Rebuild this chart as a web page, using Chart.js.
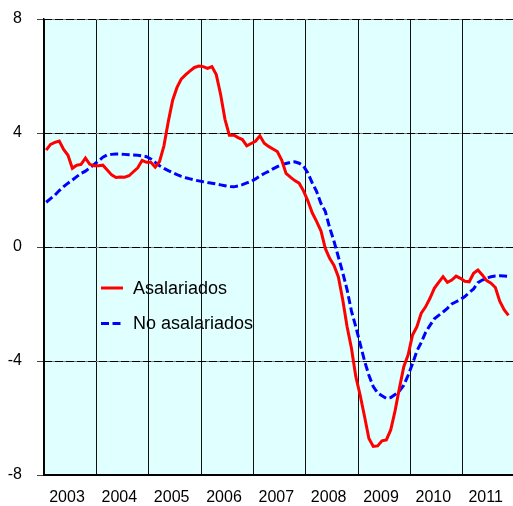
<!DOCTYPE html>
<html>
<head>
<meta charset="utf-8">
<script src="https://cdn.jsdelivr.net/npm/chart.js@4.4.1/dist/chart.umd.min.js"></script>
<style>
html,body{margin:0;padding:0;overflow:hidden;background:#ffffff;}
canvas{display:block;}
</style>
</head>
<body>
<canvas id="c" width="515" height="506"></canvas>
<script>
// ---- data (monthly, Jan 2003 onward) ----
const years = ['2003','2004','2005','2006','2007','2008','2009','2010','2011'];
const yTicks = [8, 4, 0, -4, -8];
const seriesNames = ['Asalariados', 'No asalariados'];

const asalariados = [
  3.4, 3.6, 3.67, 3.72, 3.42, 3.22, 2.76, 2.87, 2.9, 3.12, 2.9, 2.85,
  2.85, 2.87, 2.7, 2.53, 2.44, 2.46, 2.45, 2.5, 2.64, 2.78, 3.04, 2.97,
  2.97, 2.8, 3.0, 3.55, 4.4, 5.15, 5.6, 5.9, 6.05, 6.18, 6.3, 6.35,
  6.33, 6.27, 6.33, 6.05, 5.35, 4.48, 3.92, 3.93, 3.84, 3.77, 3.55, 3.63,
  3.71, 3.9, 3.64, 3.53, 3.44, 3.35, 3.05, 2.58, 2.45, 2.33, 2.24, 1.97,
  1.62, 1.2, 0.9, 0.57, -0.05, -0.4, -0.65, -1.05, -1.85, -2.8, -3.55, -4.55,
  -5.2, -5.95, -6.72, -7.0, -6.98, -6.8, -6.77, -6.42, -5.75, -4.95, -4.2, -3.78,
  -3.09, -2.8, -2.32, -2.1, -1.8, -1.45, -1.24, -1.04, -1.24, -1.16, -1.02, -1.1,
  -1.2, -1.22, -0.92, -0.81, -0.98, -1.18, -1.27, -1.42, -1.9, -2.2, -2.4
];

const noAsalariados = [
  1.57, 1.7, 1.82, 1.98, 2.12, 2.24, 2.35, 2.47, 2.58, 2.66, 2.78, 2.9,
  3.02, 3.15, 3.23, 3.25, 3.26, 3.26, 3.25, 3.24, 3.23, 3.22, 3.2, 3.17,
  3.09, 2.97, 2.85, 2.76, 2.68, 2.61, 2.54, 2.48, 2.43, 2.39, 2.35, 2.32,
  2.29, 2.26, 2.24, 2.21, 2.18, 2.15, 2.12, 2.11, 2.14, 2.19, 2.25, 2.3,
  2.39, 2.49, 2.58, 2.65, 2.74, 2.82, 2.89, 2.93, 2.97, 2.99, 2.94, 2.84,
  2.6, 2.25, 1.95, 1.53, 1.25, 0.68, 0.2, -0.35, -0.9, -1.5, -2.25, -2.8,
  -3.4, -4.0, -4.5, -4.9, -5.12, -5.22, -5.31, -5.28, -5.18, -5.05, -4.85, -4.5,
  -4.1, -3.65, -3.35, -3.0, -2.75, -2.52, -2.4, -2.28, -2.15, -2.0, -1.92, -1.84,
  -1.74, -1.6, -1.47, -1.25, -1.16, -1.1, -1.04, -1.02, -1.01, -1.02, -1.03
];

const MONTHS_PER_YEAR = 12;
// each monthly value sits at the centre of its month on a linear month axis
const toPoints = arr => arr.map((v, i) => ({ x: i + 0.5, y: v }));

const FONT = '"Liberation Sans", Arial, Helvetica, sans-serif';

function noOverhang(ax) {
  ax.paddingTop = 0; ax.paddingBottom = 0; ax.paddingLeft = 0; ax.paddingRight = 0;
}

const plotBackground = {
  id: 'plotBackground',
  beforeDraw(chart) {
    const { ctx, chartArea: a } = chart;
    ctx.save();
    ctx.fillStyle = '#e0ffff';
    ctx.fillRect(a.left, a.top, a.right - a.left, a.bottom - a.top);
    ctx.restore();
  }
};

const insideLegend = {
  id: 'insideLegend',
  afterDatasetsDraw(chart) {
    const ctx = chart.ctx;
    ctx.save();
    chart.data.datasets.forEach((ds, i) => {
      const y = 288 + i * 35.5;
      ctx.strokeStyle = ds.borderColor;
      ctx.lineWidth = 3;
      ctx.setLineDash(ds.borderDash || []);
      ctx.beginPath();
      ctx.moveTo(101, y);
      ctx.lineTo(123, y);
      ctx.stroke();
      ctx.setLineDash([]);
      ctx.fillStyle = '#000';
      ctx.font = '18px ' + FONT;
      ctx.textBaseline = 'middle';
      ctx.textAlign = 'left';
      ctx.fillText(ds.label, 133, y + 0.8);
    });
    ctx.restore();
  }
};

new Chart(document.getElementById('c'), {
  type: 'line',
  data: {
    datasets: [
      {
        label: seriesNames[0],
        data: toPoints(asalariados),
        borderColor: '#ff0000',
        borderWidth: 3,
        pointRadius: 0,
        tension: 0,
        fill: false
      },
      {
        label: seriesNames[1],
        data: toPoints(noAsalariados),
        borderColor: '#0000ff',
        borderWidth: 3,
        borderDash: [8, 3.5],
        pointRadius: 0,
        tension: 0,
        fill: false
      }
    ]
  },
  options: {
    responsive: false,
    animation: false,
    events: [],
    layout: { autoPadding: false, padding: { top: 19, left: 0, right: 0, bottom: 0 } },
    plugins: { legend: { display: false }, tooltip: { enabled: false } },
    scales: {
      x: {
        type: 'linear',
        min: 0,
        max: years.length * MONTHS_PER_YEAR,
        afterBuildTicks(ax) {
          ax.ticks = years.concat(['']).map((y, i) => ({ value: i * MONTHS_PER_YEAR }));
        },
        ticks: {
          autoSkip: false,
          maxRotation: 0,
          padding: 13,
          labelOffset: 23,
          color: '#000',
          font: { family: FONT, size: 16 },
          callback: (v) => years[Math.round(v / MONTHS_PER_YEAR)] || ''
        },
        grid: { color: '#111', lineWidth: 1, drawTicks: false },
        border: { display: true, color: '#000', width: 2 },
        afterFit(ax) { ax.height = 31; noOverhang(ax); }
      },
      y: {
        type: 'linear',
        position: 'left',
        min: -8,
        max: 8,
        afterBuildTicks(ax) { ax.ticks = yTicks.map(v => ({ value: v })); },
        ticks: {
          padding: 15,
          color: '#000',
          font: { family: FONT, size: 16 }
        },
        grid: { color: '#808080', lineWidth: 1, drawTicks: true, tickLength: 7, tickColor: '#444' },
        border: { display: true, color: '#000', width: 1.5 },
        afterFit(ax) { ax.width = 44; noOverhang(ax); }
      },
      y2: {
        type: 'linear',
        position: 'left',
        min: -8,
        max: 8,
        afterBuildTicks(ax) { ax.ticks = yTicks.map(v => ({ value: v })); },
        ticks: { display: false },
        grid: { color: '#000', lineWidth: 1, drawTicks: false },
        border: { display: false, dash: [8, 3] },
        afterFit(ax) { ax.width = 0; noOverhang(ax); }
      }
    }
  },
  plugins: [plotBackground, insideLegend]
});
</script>
</body>
</html>
